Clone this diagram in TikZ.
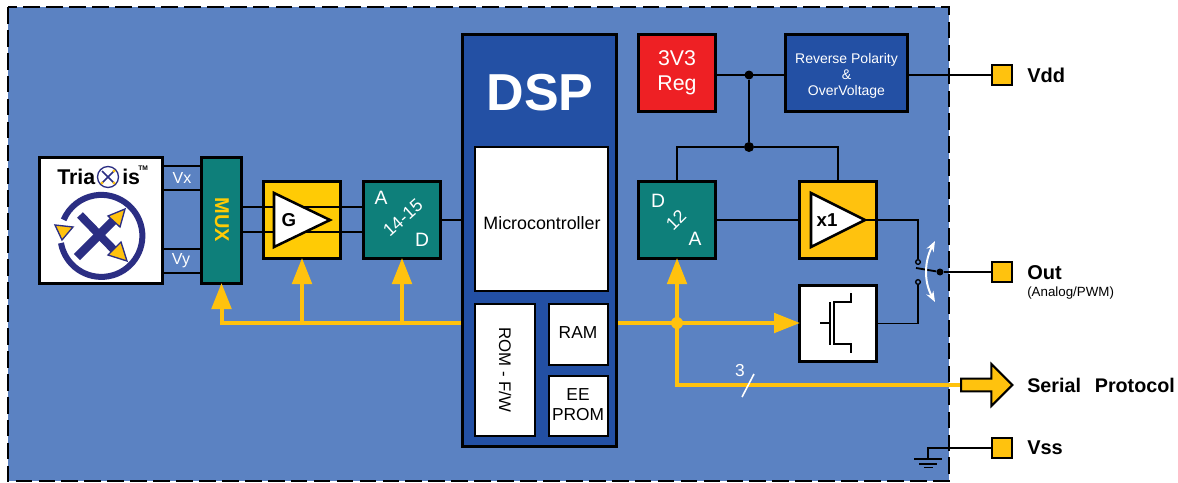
\documentclass[tikz,border=0pt]{standalone}
\usepackage{fontspec}
\setmainfont{Liberation Sans}
\usetikzlibrary{arrows.meta,shapes.arrows}
\definecolor{boardblue}{HTML}{5B82C2}
\definecolor{dspblue}{HTML}{2350A4}
\definecolor{teal}{HTML}{0E7F7A}
\definecolor{amber}{HTML}{FFC20E}
\definecolor{gold}{HTML}{FFCB05}
\definecolor{regred}{HTML}{EE2024}
\definecolor{logonavy}{HTML}{2B2E83}
\newcommand{\fs}[1]{\fontsize{#1}{#1}\selectfont\setlength{\baselineskip}{1.15\baselineskip}}
\tikzset{
	block/.style n args={3}{draw=black, line width=2.25pt, fill=#1, inner sep=0pt, minimum width=#2*0.75pt-2.25pt, minimum height=#3*0.75pt-2.25pt},
	wire/.style={draw=black, line width=1.4pt},
	bus/.style={draw=amber, line width=3pt},
	busarrow/.style={bus, -{Triangle[length=19.5pt,width=14.5pt]}, shorten >=-1.5pt},
	pad/.style={block={amber}{23}{23}, line width=1.5pt},
	padlabel/.style={anchor=west, inner sep=0pt, font=\fs{15}\bfseries},
	blocktext/.style={text=white, inner sep=0pt, align=center},
	darktext/.style={text=black, inner sep=0pt, align=center},
	amptri/.style={draw=black, line width=1.9pt, fill=white, line join=miter},
	logoarrow/.style={draw=logonavy, fill=amber, line width=1pt, line join=miter},
	dot/.style={circle, fill=black, inner sep=0pt, minimum size=#1*0.75pt},
	contact/.style={circle, draw=black, fill=boardblue, line width=1pt, inner sep=0pt, minimum size=3.5pt},
}
\begin{document}
\begin{tikzpicture}[x=0.75pt,y=-0.75pt]
	\useasboundingbox (0,0) rectangle (1178,482);
	\draw[fill=boardblue, draw=black, line width=1.5pt, dash pattern=on 12.5pt off 4.7pt] (8,7) rectangle (949,481);
	% rows of the wires
	\coordinate (vxa) at (0,166);
	\coordinate (vxb) at (0,190);
	\coordinate (vya) at (0,249);
	\coordinate (vyb) at (0,273);
	\coordinate (sigp) at (0,207);
	\coordinate (sign) at (0,232);
	\coordinate (busrow) at (0,323);
	% blocks
	\node[block={white}{126}{129}] (tri) at (101,220.5) {};
	\node[block={teal}{43}{129}] (mux) at (221.5,220.5) {};
	\node[block={gold}{80}{80}] (gain) at (302,220) {};
	\node[block={teal}{80}{80}] (adc) at (402,220) {};
	\node[block={dspblue}{157}{415}] (dsp) at (539.5,240.5) {};
	\node[block={white}{136}{147}, line width=1.5pt] (micro) at (541,218.5) {};
	\node[block={white}{63}{135}, line width=1.5pt] (rom) at (504.5,369.5) {};
	\node[block={white}{62}{64}, line width=1.5pt] (ram) at (578,334) {};
	\node[block={white}{62}{63}, line width=1.5pt] (eeprom) at (578,405.5) {};
	\node[block={regred}{80}{80}] (reg) at (677,73) {};
	\node[block={dspblue}{125}{80}] (rev) at (846.5,73) {};
	\node[block={teal}{80}{80}] (dac) at (677,220) {};
	\node[block={amber}{80}{80}] (buf) at (838,220) {};
	\node[block={white}{80}{79}] (mos) at (838,323.5) {};
	\node[pad] (vdd) at (1002,75) {};
	\node[pad] (out) at (1002,272) {};
	\node[pad] (vss) at (1002,448) {};
	\node[single arrow, draw=black, fill=amber, line width=1.5pt, inner xsep=0pt, inner ysep=4pt, minimum height=38.5pt, minimum width=31pt, single arrow head extend=11pt, anchor=tail] (ser) at (960,385) {};
	% wires
	\path[wire]
	(tri.east |- vxa) edge (mux.west |- vxa)
	(tri.east |- vxb) edge (mux.west |- vxb)
	(tri.east |- vya) edge (mux.west |- vya)
	(tri.east |- vyb) edge (mux.west |- vyb)
	(mux.east |- sigp) edge (adc.west |- sigp)
	(mux.east |- sign) edge (adc.west |- sign)
	(adc.east) edge (dsp.west |- adc.east)
	(reg.east |- vdd) edge (rev.west |- vdd)
	(rev.east |- vdd) edge (vdd.west)
	(dac.east) edge (buf.west);
	\node[dot=9] (supa) at (749,75) {};
	\node[dot=10] (supb) at (749,147) {};
	\draw[wire] (supa) -- (supb);
	\draw[wire] (dac.north) |- (supb) -| (buf.north);
	% triangles
	\draw[amptri] (274,193) -- (274,247) -- (330,220) -- cycle;
	\draw[amptri] (811,193) -- (811,247) -- (865,220) -- cycle;
	% output switch
	\node[contact] (swa) at (918,262) {};
	\node[contact] (swb) at (918,282) {};
	\node[dot=7] (swc) at (940,272) {};
	\coordinate (swfree) at (916,268);
	\draw[wire] (865,220) -| (swa);
	\draw[wire] (mos.east) -| (swb);
	\draw[wire] (swfree) -- (swc);
	\draw[wire] (swc) -- (swc -| out.west);
	\draw[white, line width=1.5pt, {Stealth[length=8pt,width=6pt]}-{Stealth[length=8pt,width=6pt]}] (935,241) .. controls (924,262) and (924,282) .. (935,302);
	% mos symbol
	\draw[black, line width=1.3pt] (820,323) -- (830,323) (830,302) -- (830,345);
	\draw[black, line width=1.3pt] (851,293) -- (851,302) -- (834,302) -- (834,344) -- (851,344) -- (851,353);
	% ground
	\coordinate (gnda) at (928,459);
	\draw[wire, line width=1pt] (vss.west) -| (gnda);
	\draw[black, line width=1pt] (914,459) -- (942,459);
	\draw[black, line width=1pt] (919,464) -- (937,464);
	\draw[black, line width=1pt] (924,467.5) -- (933,467.5);
	% bus
	\draw[busarrow] (dsp.west |- busrow) -- (mux.south |- busrow) -- (mux.south);
	\draw[busarrow] (gain.south |- busrow) -- (gain.south);
	\draw[busarrow] (adc.south |- busrow) -- (adc.south);
	\draw[busarrow] (dsp.east |- busrow) -- (mos.west |- busrow);
	\draw[busarrow] (dac.south |- busrow) -- (dac.south);
	\draw[bus] (dac.south |- busrow) |- (ser.tail);
	\node[circle, fill=amber, inner sep=0pt, minimum size=9pt] (busdot) at (dac.south |- busrow) {};
	\coordinate (slasha) at (742,397);
	\coordinate (slashb) at (754,374);
	\draw[white, line width=1.2pt] (slasha) -- (slashb);
	% logo
	\node[inner sep=0pt, anchor=base west, font=\fs{16}\bfseries] (tria) at (57,184) {Tria};
	\node[inner sep=0pt, anchor=base west, font=\fs{16}\bfseries] (is) at (122,184) {is};
	\node[inner sep=0pt, anchor=base west, font=\fs{5}\bfseries] (tm) at (138,170) {TM};
	\draw[logonavy, line width=1pt] (108,177) circle (10.5);
	\draw[logonavy, line width=1.2pt] (102,171) -- (114,183) (102,183) -- (114,171);
	\fill[amber] (114,171) circle (1.6) (114,183) circle (1.6) (102,183) circle (1.6);
	\draw[logonavy, line width=4.5pt] (61,243) arc [start angle=170, end angle=-157, radius=41];
	\draw[logonavy, line width=6pt] (80,215) -- (115,251);
	\draw[logonavy, line width=6.5pt] (77,257) -- (116,218);
	\draw[logoarrow] (125,209) -- (108,216) -- (120,227) -- cycle;
	\draw[logoarrow] (127,261) -- (108,255) -- (121,242) -- cycle;
	\draw[logoarrow] (62,240) -- (55,225) -- (73,227) -- cycle;
	% labels
	\node[blocktext, font=\fs{12}] (vx) at (182,178) {Vx};
	\node[blocktext, font=\fs{12}] (vy) at (181,261) {Vy};
	\node[blocktext, text=gold, font=\fs{15}\bfseries, rotate=-90] (muxt) at (222,220) {MUX};
	\node[darktext, font=\fs{14}\bfseries] (gaint) at (289,220) {G};
	\node[blocktext, font=\fs{14.5}] (adca) at (381,198) {A};
	\node[blocktext, font=\fs{14.5}] (adcd) at (422,240) {D};
	\node[blocktext, font=\fs{13.5}, rotate=42] (adcb) at (403,218) {14-15};
	\node[blocktext, font=\fs{39}\bfseries] (dspt) at (540,93) {DSP};
	\node[darktext, font=\fs{13.4}] (microt) at (542,223) {Microcontroller};
	\node[darktext, font=\fs{12.6}, rotate=-90] (romt) at (505,370) {ROM - F/W};
	\node[darktext, font=\fs{13}] (ramt) at (578,333) {RAM};
	\node[darktext, font=\fs{13}] (eet) at (578,405) {EE\\PROM};
	\node[blocktext, font=\fs{16}] (regt) at (677,73) {3V3\\Reg};
	\node[blocktext, font=\fs{10.5}] (revt) at (846.5,76) {Reverse Polarity\\\&\\OverVoltage};
	\node[blocktext, font=\fs{14.5}] (dacd) at (658,201) {D};
	\node[blocktext, font=\fs{14.5}] (daca) at (695,239) {A};
	\node[blocktext, font=\fs{13.5}, rotate=45] (dacb) at (676,220) {12};
	\node[darktext, font=\fs{14}\bfseries] (buft) at (827,220) {x1};
	\node[blocktext, font=\fs{13}] (three) at (740,371) {3};
	\node[padlabel] (vddt) at (1027,75) {Vdd};
	\node[padlabel] (outt) at (1027,273) {Out};
	\node[anchor=west, inner sep=0pt, font=\fs{10}] (outn) at (1027,293) {(Analog/PWM)};
	\node[padlabel, font=\fs{14.8}\bfseries] (sert) at (1027,385) {Serial\hspace{0.7em}Protocol};
	\node[padlabel] (vsst) at (1027,448) {Vss};
\end{tikzpicture}
\end{document}
